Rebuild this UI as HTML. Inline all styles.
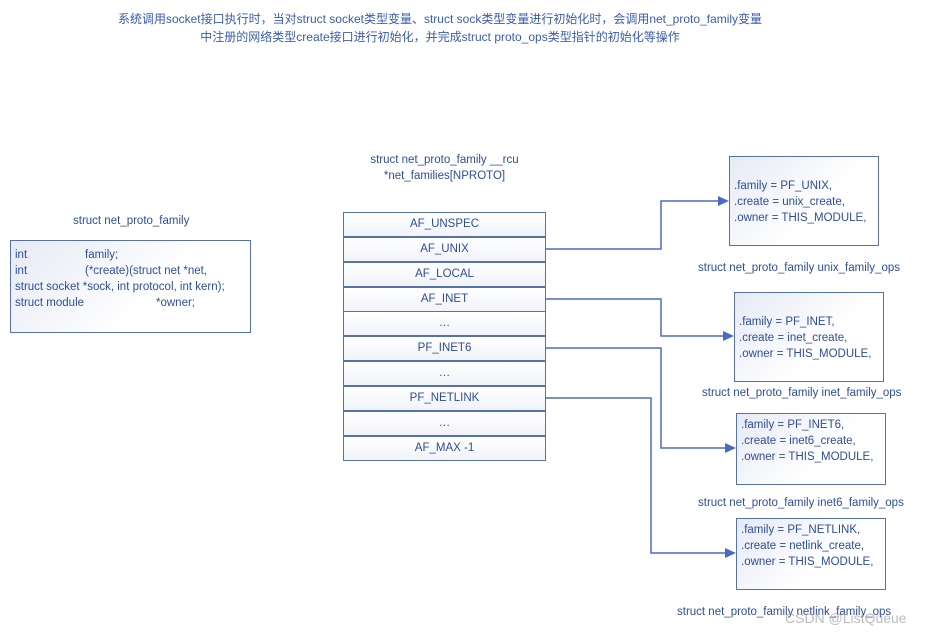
<!DOCTYPE html>
<html><head><meta charset="utf-8"><style>
body{margin:0;width:934px;height:635px;background:#fff;position:relative;font-family:"Liberation Sans","Noto Sans CJK SC",sans-serif;color:#2e4d9a;overflow:hidden}
.t{position:absolute;font-size:11.5px;white-space:nowrap}
.box{position:absolute;border:1.5px solid #5573aa;background:linear-gradient(135deg,#e6eaf5,#fff 60%);box-sizing:border-box;font-size:11.5px;color:#2e4d9a;line-height:16px}
.row{position:absolute;left:343px;width:203px;height:25px;border:1.3px solid #5573aa;box-sizing:border-box;background:linear-gradient(180deg,#fff,#f1f3f9);font-size:11.5px;text-align:center;line-height:23px;color:#2e4d9a}
</style></head><body>
<div class="t" style="left:0;width:880px;text-align:center;top:10px;line-height:18px;font-size:12px;color:#3a5cb0">系统调用socket接口执行时，当对struct socket类型变量、struct sock类型变量进行初始化时，会调用net_proto_family变量<br>中注册的网络类型create接口进行初始化，并完成struct proto_ops类型指针的初始化等操作</div>
<div class="t" style="left:73px;top:215px">struct net_proto_family</div>
<div class="box" style="left:10px;top:240px;width:241px;height:93px;padding:6px 4px">
<div>int<span style="position:absolute;left:74px">family;</span></div>
<div>int<span style="position:absolute;left:74px">(*create)(struct net *net,</span></div>
<div>struct socket *sock, int protocol, int kern);</div>
<div>struct module<span style="position:absolute;left:145px">*owner;</span></div></div>
<div class="t" style="left:343px;width:203px;text-align:center;top:152px;line-height:16px">struct net_proto_family __rcu<br>*net_families[NPROTO]</div>
<div class="row" style="top:212px">AF_UNSPEC</div>
<div class="row" style="top:237px">AF_UNIX</div>
<div class="row" style="top:262px">AF_LOCAL</div>
<div class="row" style="top:287px">AF_INET</div>
<div class="row" style="top:311px">…</div>
<div class="row" style="top:336px">PF_INET6</div>
<div class="row" style="top:361px">…</div>
<div class="row" style="top:386px">PF_NETLINK</div>
<div class="row" style="top:411px">…</div>
<div class="row" style="top:436px">AF_MAX -1</div>
<svg style="position:absolute;left:0;top:0" width="934" height="635">
<g fill="none" stroke="#4a6cc0" stroke-width="1.5">
<polyline points="546,249 661,249 661,201 720,201"/>
<polyline points="546,299 661,299 661,336 725,336"/>
<polyline points="546,348 661,348 661,448 727,448"/>
<polyline points="546,398 651,398 651,553 727,553"/>
</g>
<g fill="#4a6cc0">
<polygon points="729,201 718,196 718,206"/>
<polygon points="734,336 723,331 723,341"/>
<polygon points="736,448 725,443 725,453"/>
<polygon points="736,553 725,548 725,558"/>
</g></svg>
<div class="box" style="left:729px;top:156px;width:150px;height:90px;padding:21px 4px">.family = PF_UNIX,<br>.create = unix_create,<br>.owner = THIS_MODULE,</div>
<div class="t" style="left:698px;top:262px">struct net_proto_family unix_family_ops</div>
<div class="box" style="left:734px;top:292px;width:150px;height:90px;padding:21px 4px">.family = PF_INET,<br>.create = inet_create,<br>.owner = THIS_MODULE,</div>
<div class="t" style="left:702px;top:387px">struct net_proto_family inet_family_ops</div>
<div class="box" style="left:736px;top:413px;width:150px;height:72px;padding:3px 4px">.family = PF_INET6,<br>.create = inet6_create,<br>.owner = THIS_MODULE,</div>
<div class="t" style="left:698px;top:497px">struct net_proto_family inet6_family_ops</div>
<div class="box" style="left:736px;top:518px;width:150px;height:72px;padding:3px 4px">.family = PF_NETLINK,<br>.create = netlink_create,<br>.owner = THIS_MODULE,</div>
<div class="t" style="left:677px;top:606px">struct net_proto_family netlink_family_ops</div>
<div class="t" style="left:785px;top:610px;font-size:14px;color:rgba(160,160,160,0.7)">CSDN @ListQueue</div>
</body></html>
